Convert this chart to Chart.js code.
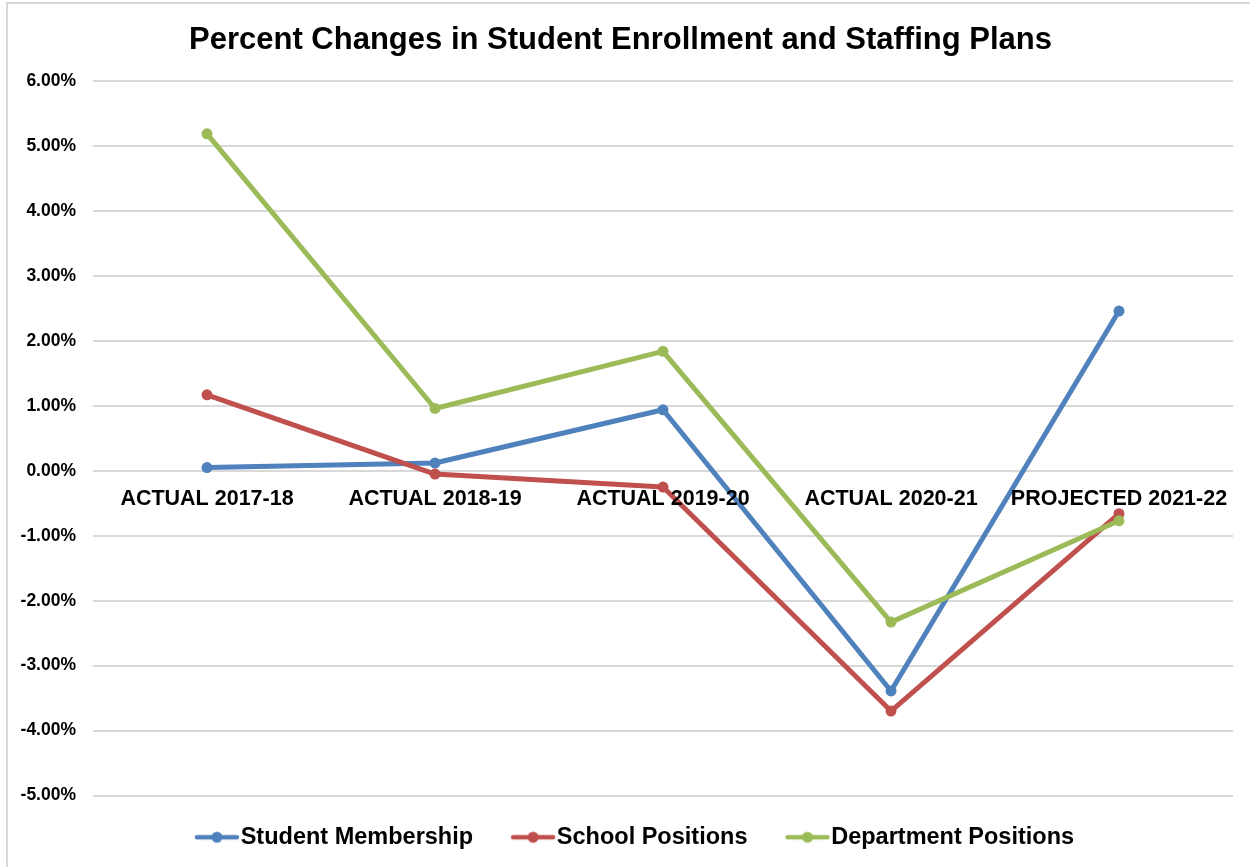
<!DOCTYPE html>
<html>
<head>
<meta charset="utf-8">
<title>Percent Changes in Student Enrollment and Staffing Plans</title>
<script src="https://cdn.jsdelivr.net/npm/chart.js@4.4.1/dist/chart.umd.min.js"></script>
<style>
  html, body { margin: 0; padding: 0; background: #fff; overflow: hidden; }
  .frame { position: absolute; left: 6px; top: 2px; width: 1260px; height: 880px; border: 2px solid #d9d9d9; }
  .box { position: relative; width: 1242px; height: 863px; }
</style>
</head>
<body>
<div class="frame"><div class="box"><canvas id="pctChart"></canvas></div></div>
<script>
// --- DATA ---
const categories = ['ACTUAL 2017-18', 'ACTUAL 2018-19', 'ACTUAL 2019-20', 'ACTUAL 2020-21', 'PROJECTED 2021-22'];
const studentMembership = [0.05, 0.12, 0.94, -3.39, 2.46];
const schoolPositions = [1.17, -0.05, -0.25, -3.70, -0.66];
const departmentPositions = [5.19, 0.96, 1.84, -2.33, -0.77];

// --- COLORS ---
const BLUE = '#4F81BD';
const RED = '#C0504D';
const GREEN = '#9BBB59';
const FONT = '"Liberation Sans", Arial, sans-serif';

// legend marker: short line with a dot, padded on the left so it sits next to the text
function legendMarker(color){
    const c = document.createElement('canvas');
    c.width = 86; c.height = 14;
    const g = c.getContext('2d');
    g.strokeStyle = color;
    g.lineWidth = 4.5;
    g.lineCap = 'round';
    g.beginPath(); g.moveTo(42, 7); g.lineTo(82, 7); g.stroke();
    g.fillStyle = color;
    g.beginPath(); g.arc(62, 7, 5.5, 0, Math.PI*2); g.fill();
    return c;
}

// category names sit just under the 0% line, like an axis crossing at zero
const zeroLineLabels = {
    id: 'zeroLineLabels',
    afterDatasetsDraw(chart){
        const {ctx, scales:{x, y}} = chart;
        const base = y.getPixelForValue(0);
        ctx.save();
        ctx.font = 'bold 21.5px ' + FONT;
        ctx.fillStyle = '#000';
        ctx.textAlign = 'center';
        ctx.textBaseline = 'middle';
        categories.forEach((label, i) => ctx.fillText(label, x.getPixelForValue(i), base + 28.5));
        ctx.restore();
    }
};

function lineSet(label, data, color, order){
    return {
        label, data, order,
        borderColor: color,
        backgroundColor: color,
        borderWidth: 5,
        pointRadius: 5.5,
        pointHoverRadius: 5.5,
        pointBorderWidth: 0,
        tension: 0,
        borderJoinStyle: 'round',
        borderCapStyle: 'round'
    };
}

new Chart(document.getElementById('pctChart'), {
    type: 'line',
    data: {
        labels: categories,
        datasets: [
            lineSet('Student Membership', studentMembership, BLUE, 3),
            lineSet('School Positions', schoolPositions, RED, 2),
            lineSet('Department Positions', departmentPositions, GREEN, 1)
        ]
    },
    options: {
        responsive: true,
        maintainAspectRatio: false,
        animation: false,
        events: [],
        layout: { padding: { left: 0, right: 17, top: 0, bottom: 8 } },
        scales: {
            x: {
                offset: true,
                ticks: { display: false },
                grid: { display: false },
                border: { display: false },
                afterFit: s => { s.height = 20; }
            },
            y: {
                min: -5,
                max: 6,
                ticks: {
                    stepSize: 1,
                    padding: 17,
                    color: '#000',
                    font: { family: FONT, size: 17.5, weight: 'bold' },
                    callback: v => v.toFixed(2) + '%'
                },
                grid: { color: '#d9d9d9', lineWidth: 2, drawTicks: false },
                border: { display: false },
                afterFit: s => { s.width = 85; }
            }
        },
        plugins: {
            title: {
                display: true,
                text: 'Percent Changes in Student Enrollment and Staffing Plans',
                color: '#000',
                font: { family: FONT, size: 31, weight: 'bold' },
                padding: { top: 18, bottom: 22 }
            },
            legend: {
                position: 'bottom',
                labels: {
                    color: '#000',
                    font: { family: FONT, size: 23.5, weight: 'bold' },
                    padding: 10,
                    usePointStyle: true,
                    pointStyleWidth: 62,
                    generateLabels: chart => {
                        const items = Chart.defaults.plugins.legend.labels.generateLabels(chart);
                        items.forEach(it => { it.pointStyle = legendMarker(chart.data.datasets[it.datasetIndex].borderColor); });
                        return items.sort((a, b) => a.datasetIndex - b.datasetIndex);
                    }
                }
            },
            tooltip: { enabled: false }
        }
    },
    plugins: [zeroLineLabels]
});
</script>
</body>
</html>
